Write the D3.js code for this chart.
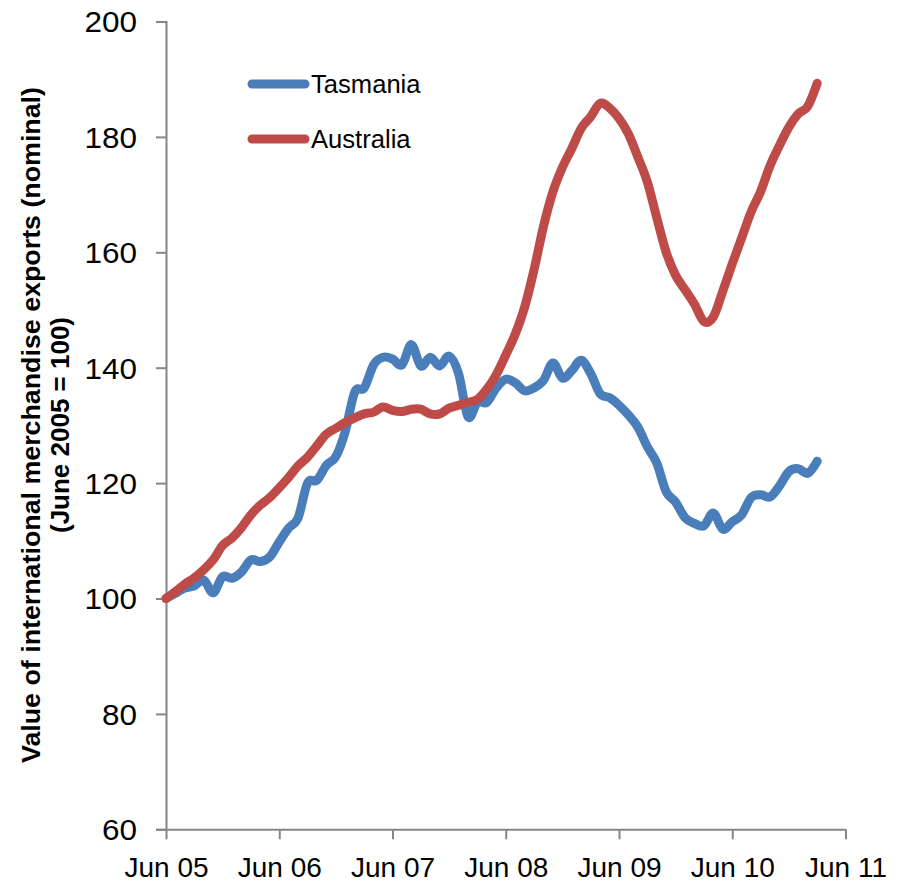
<!DOCTYPE html>
<html>
<head>
<meta charset="utf-8">
<script src="https://cdn.jsdelivr.net/npm/d3@7"></script>
<style>
  body { margin: 0; background: #fff; }
  svg { display: block; }
</style>
</head>
<body>
<div id="chart"></div>
<script>
// monthly index, June 2005 = 100 (Jun 05 .. Mar 11)
var tasmania = [100, 100.9, 101.8, 102.2, 103.2, 101, 103.8, 103.5, 104.6, 106.7,
  106.4, 107.2, 109.8, 112.2, 114, 120, 120.5, 123.1, 124.6, 129,
  135.8, 136.5, 140.5, 141.8, 141.5, 140.5, 144, 140.3, 141.8, 140.3,
  142, 139, 131.5, 134, 134, 136.5, 138, 137.4, 136, 136.5,
  137.8, 140.8, 138.2, 139.5, 141.3, 139, 135.5, 134.8, 133.5, 131.8,
  129.7, 126.3, 123.5, 118.5, 116.7, 114, 113, 112.6, 114.8, 112,
  113.3, 114.5, 117.5, 118, 117.6, 119.5, 122, 122.5, 121.7, 123.8];
var australia = [100, 101.2, 102.5, 103.6, 105, 106.7, 109.2, 110.5, 112.3, 114.5,
  116.2, 117.5, 119.2, 121, 123, 124.5, 126.5, 128.5, 129.5, 130.5,
  131.3, 132, 132.3, 133.2, 132.6, 132.4, 132.8, 132.8, 132, 132,
  133, 133.5, 134, 134.5, 136.3, 138.8, 142.2, 145.8, 150.5, 157,
  164.5, 170.5, 174.7, 178, 181.5, 183.5, 185.8, 185, 183.2, 180.5,
  176.5, 172.2, 166, 160, 156, 153.5, 151, 148, 148.8, 153.3,
  158, 162.5, 167, 170.5, 175, 178.5, 181.7, 184, 185.3, 189.3];
var seriesNames = ["Tasmania", "Australia"];
var seriesColors = ["#4a7ebb", "#be4b48"];
var xTickLabels = ["Jun 05", "Jun 06", "Jun 07", "Jun 08", "Jun 09", "Jun 10", "Jun 11"];
var yTicks = [60, 80, 100, 120, 140, 160, 180, 200];

var width = 905, height = 886;
var svg = d3.select("#chart").append("svg")
    .attr("width", width)
    .attr("height", height);

// x in months since Jun 05
var x = d3.scaleLinear().domain([0, 72]).range([166, 845.5]);
var y = d3.scaleLinear().domain([60, 200]).range([829.3, 21.5]);

// y axis
var yAxis = svg.append("g")
    .attr("transform", "translate(" + x(0) + ",0)")
    .call(d3.axisLeft(y).tickValues(yTicks).tickSize(10).tickPadding(19));
yAxis.select(".domain").attr("stroke", "#868686").attr("stroke-width", 2);
yAxis.selectAll(".tick line").attr("stroke", "#868686").attr("stroke-width", 2);
yAxis.selectAll(".tick text")
    .attr("fill", "#000")
    .style("font-family", "Liberation Sans, Arial, sans-serif")
    .style("font-size", "29px")
    .attr("dy", "0.36em")
    .attr("textLength", function(d) { return String(d).length * 17.5; })
    .attr("lengthAdjust", "spacingAndGlyphs");

// x axis
var xAxis = svg.append("g")
    .attr("transform", "translate(0," + y(60) + ")")
    .call(d3.axisBottom(x).tickValues(d3.range(0, 73, 12))
        .tickFormat(function(d, i) { return xTickLabels[i]; })
        .tickSize(10).tickSizeOuter(0).tickPadding(18));
xAxis.select(".domain").attr("stroke", "#868686").attr("stroke-width", 2);
xAxis.selectAll(".tick line").attr("stroke", "#868686").attr("stroke-width", 2);
xAxis.selectAll(".tick text")
    .attr("fill", "#000")
    .style("font-family", "Liberation Sans Narrow, Arial Narrow, sans-serif")
    .style("font-size", "28px");

// lines
var line = d3.line()
    .x(function(d, i) { return x(i); })
    .y(function(d) { return y(d); })
    .curve(d3.curveCardinal.tension(0));

[tasmania, australia].forEach(function(data, k) {
    svg.append("path")
        .datum(data)
        .attr("fill", "none")
        .attr("stroke", seriesColors[k])
        .attr("stroke-width", 9)
        .attr("stroke-linecap", "round")
        .attr("stroke-linejoin", "round")
        .attr("d", line);
});

// legend
var legend = svg.append("g");
[84, 139].forEach(function(ly, k) {
    legend.append("line")
        .attr("x1", 252).attr("x2", 305)
        .attr("y1", ly).attr("y2", ly)
        .attr("stroke", seriesColors[k])
        .attr("stroke-width", 9)
        .attr("stroke-linecap", "round");
    legend.append("text")
        .attr("x", 311).attr("y", ly + 9)
        .style("font-family", "Liberation Sans, Arial, sans-serif")
        .style("font-size", "25.6px")
        .text(seriesNames[k]);
});

// y axis title
var title = svg.append("g")
    .attr("transform", "translate(0,425) rotate(-90)")
    .style("font-family", "Liberation Sans Narrow, Arial Narrow, sans-serif")
    .style("font-weight", "bold")
    .style("font-size", "25px")
    .attr("text-anchor", "middle");
title.append("text")
    .attr("x", 0).attr("y", 40)
    .attr("textLength", 676)
    .attr("lengthAdjust", "spacingAndGlyphs")
    .text("Value of international merchandise exports (nominal)");
title.append("text")
    .attr("x", 0).attr("y", 69)
    .attr("textLength", 216)
    .attr("lengthAdjust", "spacingAndGlyphs")
    .text("(June 2005 = 100)");
</script>
</body>
</html>
